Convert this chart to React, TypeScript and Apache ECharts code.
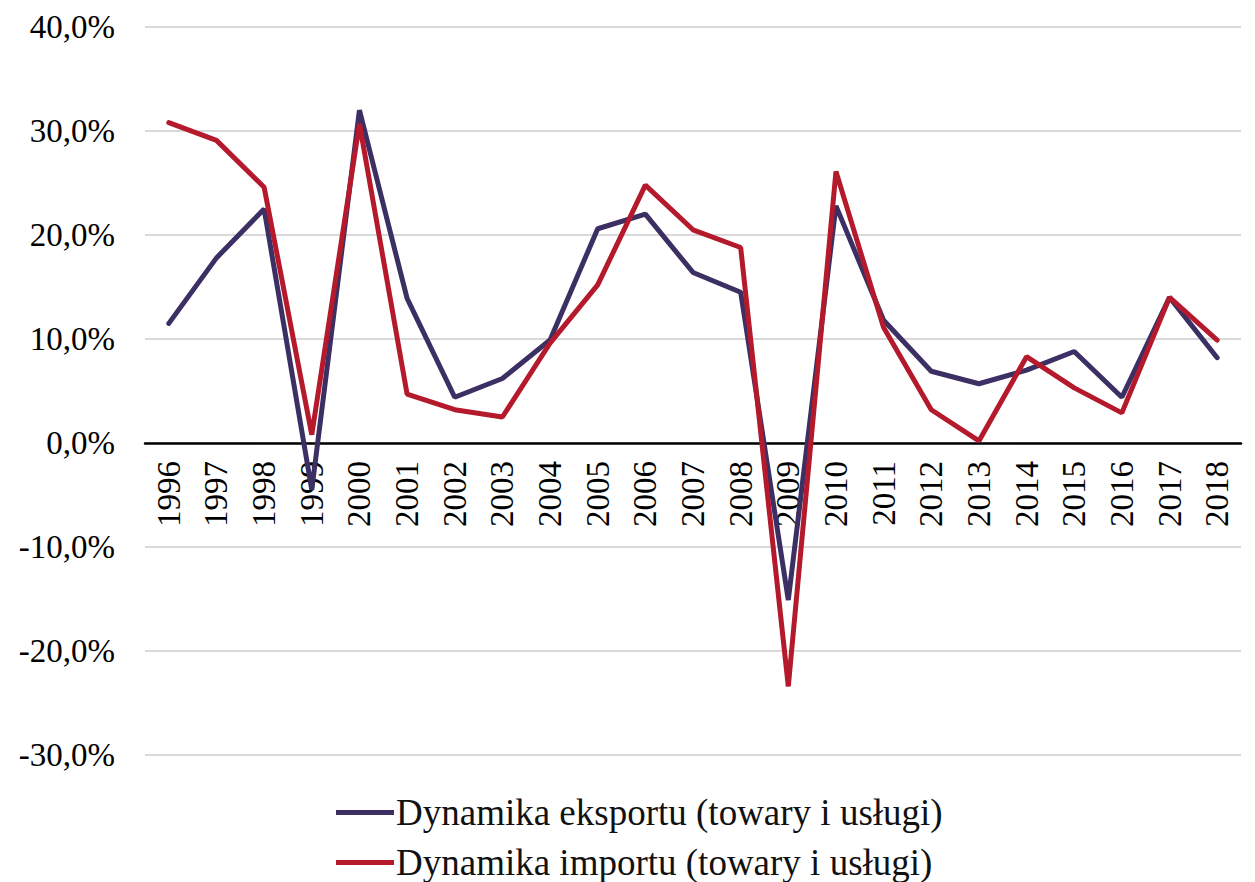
import React, { useEffect, useRef } from "react";
import * as echarts from "echarts";

const years = ["1996","1997","1998","1999","2000","2001","2002","2003","2004","2005","2006","2007","2008","2009","2010","2011","2012","2013","2014","2015","2016","2017","2018"];
const exportDyn = [11.5, 17.8, 22.5, -4.5, 32.0, 13.9, 4.4, 6.2, 9.9, 20.6, 22.0, 16.4, 14.5, -15.1, 22.8, 11.8, 6.9, 5.7, 7.0, 8.8, 4.4, 14.0, 8.2];
const importDyn = [30.8, 29.1, 24.6, 0.8, 30.7, 4.7, 3.2, 2.5, 9.6, 15.2, 24.8, 20.5, 18.8, -23.4, 26.1, 11.1, 3.2, 0.2, 8.3, 5.3, 2.9, 14.0, 9.9];
const seriesNames = ["Dynamika eksportu (towary i usługi)", "Dynamika importu (towary i usługi)"];
const colors = ["#3c2f63", "#b5192c"];

export default function App() {
  const ref = useRef<HTMLDivElement>(null);
  useEffect(() => {
    document.body.style.margin = "0";
    const chart = echarts.init(ref.current!, null, { renderer: "svg" });
    const font = "Liberation Serif";
    const legendBase = {
      orient: "horizontal",
      left: 336,
      padding: 0,
      itemWidth: 58,
      itemHeight: 5,
      icon: "rect",
      textStyle: { fontFamily: font, fontSize: 37, color: "#111", padding: [0, 0, 0, -3] },
    };
    chart.setOption({
      animation: false,
      textStyle: { fontFamily: font },
      grid: { left: 145, right: 14, top: 27, bottom: 127 },
      legend: [
        { ...legendBase, top: 794, data: [seriesNames[0]] },
        { ...legendBase, top: 844, data: [seriesNames[1]] },
      ],
      xAxis: {
        type: "category",
        data: years,
        boundaryGap: true,
        offset: -312,
        axisLine: { onZero: false, lineStyle: { color: "#000", width: 2.5 } },
        axisTick: { show: false },
        axisLabel: { rotate: 90, fontSize: 33, color: "#000", margin: 18, fontFamily: font },
        splitLine: { show: false },
      },
      yAxis: {
        type: "value",
        min: -30,
        max: 40,
        interval: 10,
        axisLine: { show: false },
        axisTick: { show: false },
        axisLabel: {
          fontSize: 33,
          color: "#000",
          margin: 30,
          fontFamily: font,
          formatter: (v: number) => v.toFixed(1).replace(".", ",") + "%",
        },
        splitLine: { lineStyle: { color: "#d9d9d9", width: 2 } },
      },
      series: [
        {
          name: seriesNames[0],
          type: "line",
          data: exportDyn,
          symbol: "none",
          color: colors[0],
          lineStyle: { width: 5, color: colors[0], cap: "round" },
        },
        {
          name: seriesNames[1],
          type: "line",
          data: importDyn,
          symbol: "none",
          color: colors[1],
          lineStyle: { width: 5, color: colors[1], cap: "round" },
        },
      ],
    });
    return () => chart.dispose();
  }, []);
  return <div ref={ref} style={{ width: 1255, height: 882 }} />;
}
